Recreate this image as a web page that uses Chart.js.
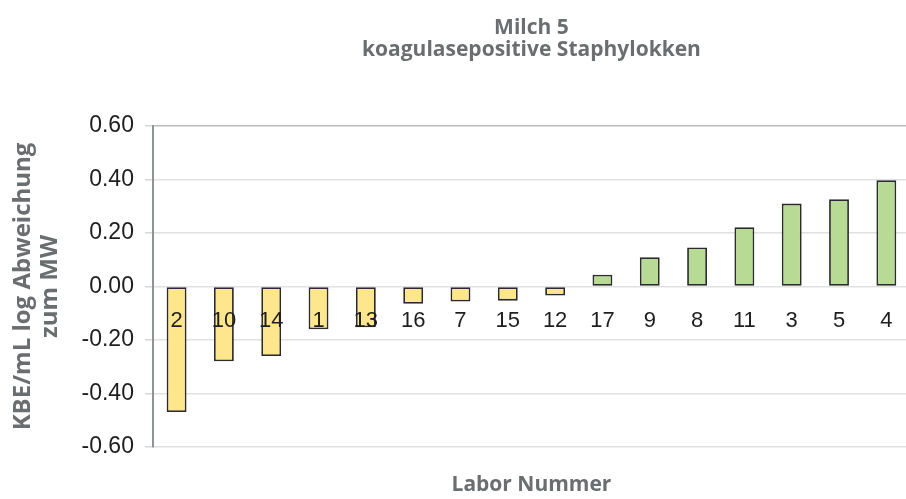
<!DOCTYPE html>
<html>
<head>
<meta charset="utf-8">
<script src="https://cdn.jsdelivr.net/npm/chart.js@4"></script>
<style>
  html, body { margin: 0; padding: 0; background: #ffffff; overflow: hidden; width: 906px; height: 499px; }
  #wrap { position: relative; width: 910px; height: 499px; }
</style>
</head>
<body>
<div id="wrap"><canvas id="c"></canvas></div>
<script>
const titleLines = ['Milch 5', 'koagulasepositive Staphylokken'];
const yTitleLines = ['KBE/mL log Abweichung', 'zum MW'];
const xTitle = 'Labor Nummer';
const labs = ['2', '10', '14', '1', '13', '16', '7', '15', '12', '17', '9', '8', '11', '3', '5', '4'];
const deviations = [-0.47, -0.28, -0.26, -0.16, -0.153, -0.065, -0.056, -0.053, -0.034, 0.044, 0.109, 0.146, 0.222, 0.31, 0.326, 0.397];
const yMin = -0.6, yMax = 0.6, yStep = 0.2;
const labelRowValue = -0.08;

const greyText = '#6b6e71';

new Chart(document.getElementById('c'), {
  type: 'bar',
  data: {
    labels: labs,
    datasets: [{
      data: deviations,
      backgroundColor: ctx => (ctx.raw < 0 ? '#fde68c' : '#b7db94'),
      borderColor: '#2b2b2b',
      borderWidth: 1.8,
      borderSkipped: false,
      barPercentage: 0.42,
      categoryPercentage: 1.0
    }]
  },
  options: {
    responsive: true,
    maintainAspectRatio: false,
    animation: false,
    layout: { padding: { left: 4, right: 0, top: 0, bottom: 0 } },
    plugins: {
      legend: { display: false },
      tooltip: { enabled: false },
      title: {
        display: true,
        text: titleLines,
        fullSize: false,
        color: greyText,
        font: { family: '"Open Sans", sans-serif', size: 21, weight: 'bold', lineHeight: 1.05 },
        padding: { top: 17, bottom: 65 }
      },
      subtitle: {
        display: true,
        position: 'bottom',
        text: xTitle,
        fullSize: false,
        color: greyText,
        font: { family: '"Open Sans", sans-serif', size: 21, weight: 'bold', lineHeight: 1.15 },
        padding: { top: 26, bottom: 2 }
      }
    },
    scales: {
      x: {
        position: { y: labelRowValue },
        grid: { display: false, drawTicks: false },
        border: { display: false },
        ticks: {
          z: 1,
          color: '#1e1e1e',
          font: { family: '"Liberation Sans", Arial, sans-serif', size: 22 },
          padding: 0,
          maxRotation: 0,
          autoSkip: false
        }
      },
      y: {
        min: yMin,
        max: yMax,
        grid: {
          color: ctx => (ctx.tick && Math.abs(ctx.tick.value - yMax) < 1e-9 ? '#b9bcbf' : '#dfe1e3'),
          lineWidth: 1.5,
          drawTicks: true,
          tickLength: 8,
          tickColor: '#d5d7d9'
        },
        border: { display: true, color: '#8e9398', width: 2 },
        ticks: {
          stepSize: yStep,
          color: '#1e1e1e',
          font: { family: '"Liberation Sans", Arial, sans-serif', size: 23 },
          padding: 11,
          callback: v => (Math.abs(v) < 1e-9 ? 0 : v).toFixed(2)
        },
        title: {
          display: true,
          text: yTitleLines,
          color: greyText,
          font: { family: '"Open Sans", sans-serif', size: 24, weight: 'bold', lineHeight: 1.125 },
          padding: { top: 5.5, bottom: 7 }
        }
      }
    }
  }
});
</script>
</body>
</html>
